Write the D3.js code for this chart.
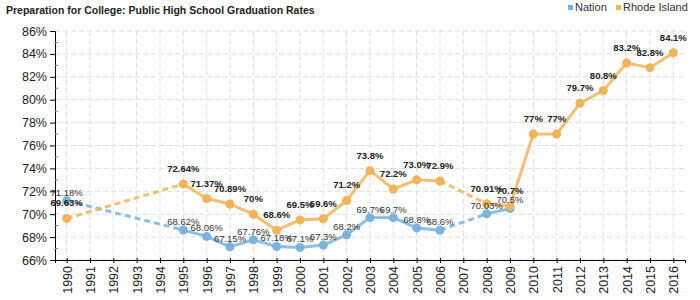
<!DOCTYPE html>
<html><head><meta charset="utf-8">
<script src="https://cdn.jsdelivr.net/npm/d3@7"></script>
<style>body{margin:0;background:#fff}svg{display:block;font-family:"Liberation Sans",Arial,sans-serif}</style>
</head><body><svg id="c" width="700" height="300"></svg>
<script>
const years = d3.range(1990, 2017);
const nationYears = [1990,1995,1996,1997,1998,1999,2000,2001,2002,2003,2004,2005,2006,2008,2009];
const nationValues = [71.18,68.62,68.06,67.15,67.76,67.18,67.1,67.3,68.2,69.7,69.7,68.8,68.6,70.03,70.5];
const nationLabels = ["71.18%","68.62%","68.06%","67.15%","67.76%","67.18%","67.1%","67.3%","68.2%","69.7%","69.7%","68.8%","68.6%","70.03%","70.5%"];
const riYears = [1990,1995,1996,1997,1998,1999,2000,2001,2002,2003,2004,2005,2006,2008,2009,2010,2011,2012,2013,2014,2015,2016];
const riValues = [69.63,72.64,71.37,70.89,70,68.6,69.5,69.6,71.2,73.8,72.2,73.0,72.9,70.91,70.7,77,77,79.7,80.8,83.2,82.8,84.1];
const riLabels = ["69.63%","72.64%","71.37%","70.89%","70%","68.6%","69.5%","69.6%","71.2%","73.8%","72.2%","73.0%","72.9%","70.91%","70.7%","77%","77%","79.7%","80.8%","83.2%","82.8%","84.1%"];
const yTicks = [66,68,70,72,74,76,78,80,82,84,86];
const yMinor = [67,69,71,73,75,77,79,81,83,85];

const svg = d3.select("#c");
const L = 55, R = 685, T = 31, B = 260;
const x = d3.scalePoint().domain(years).range([L, R]).padding(0.5);
const y = d3.scaleLinear().domain([66, 86]).range([B, T]);

svg.append("text").attr("x", 6).attr("y", 14).attr("font-size", 10.5).attr("font-weight", "bold").attr("fill", "#222")
  .text("Preparation for College: Public High School Graduation Rates");

// legend
const leg = [{n:"Nation", c:"#7ab3dc", x:568},{n:"Rhode Island", c:"#f0b45a", x:616}];
leg.forEach(d => {
  svg.append("rect").attr("x", d.x).attr("y", 5).attr("width", 5).attr("height", 5).attr("fill", d.c);
  svg.append("text").attr("x", d.x + 7).attr("y", 11).attr("font-size", 11).attr("fill", "#333").text(d.n);
});

// grid
const g = svg.append("g");
g.selectAll("line.h").data(yTicks).join("line").attr("x1", L).attr("x2", R)
  .attr("y1", d => y(d)).attr("y2", d => y(d)).attr("stroke", "#ddd").attr("stroke-dasharray", "5,3");
g.selectAll("line.v").data(years).join("line").attr("x1", d => x(d)).attr("x2", d => x(d))
  .attr("y1", T).attr("y2", B).attr("stroke", "#ddd").attr("stroke-dasharray", "5,3");

// axes
const ya = svg.append("g").attr("transform", `translate(${L},0)`)
  .call(d3.axisLeft(y).tickValues(yTicks).tickFormat(d => d + "%").tickSize(5));
ya.select(".domain").attr("stroke", "#000");
ya.selectAll("text").attr("font-size", 12.5).attr("fill", "#222").attr("font-family", "Liberation Sans, Arial");
svg.append("g").selectAll("line").data(yMinor).join("line").attr("x1", L).attr("x2", L + 3)
  .attr("y1", d => y(d)).attr("y2", d => y(d)).attr("stroke", "#e85a5a");

const xa = svg.append("g").attr("transform", `translate(0,${B})`)
  .call(d3.axisBottom(x).tickSizeOuter(0).tickSize(3));
xa.select(".domain").attr("stroke", "#000");
xa.selectAll(".tick line").attr("y1", -2).attr("y2", 3).attr("stroke", "#000");
xa.selectAll("text").attr("font-size", 12.5).attr("fill", "#222").attr("font-family", "Liberation Sans, Arial")
  .attr("transform", "rotate(-90)").attr("text-anchor", "end").attr("dx", "-6").attr("dy", "0.35em").attr("y", 0).attr("x", 0);

function drawSeries(yrs, vals, labels, color, bold, lblOff) {
  const pts = yrs.map((yr, i) => ({yr, v: vals[i], l: labels[i]}));
  const line = d3.line().x(d => x(d.yr)).y(d => y(d.v));
  const segs = [];
  for (let i = 1; i < pts.length; i++) segs.push({a: pts[i-1], b: pts[i], dashed: pts[i].yr - pts[i-1].yr > 1});
  const sg = svg.append("g");
  sg.selectAll("path").data(segs).join("path").attr("d", d => line([d.a, d.b]))
    .attr("fill", "none").attr("stroke", color).attr("stroke-width", 3).attr("stroke-opacity", 0.85)
    .attr("stroke-dasharray", d => d.dashed ? "6,4" : null);
  sg.selectAll("circle").data(pts).join("circle").attr("cx", d => x(d.yr)).attr("cy", d => y(d.v))
    .attr("r", 4.5).attr("fill", color);
  return pts;
}
const np = drawSeries(nationYears, nationValues, nationLabels, "#7ab3dc", false);
const rp = drawSeries(riYears, riValues, riLabels, "#f0b45a", true);

svg.append("g").selectAll("text").data(np).join("text")
  .attr("x", d => x(d.yr)).attr("y", d => y(d.v) - 5).attr("text-anchor", "middle")
  .attr("font-size", 9.5).attr("fill", "#333").text(d => d.l);
svg.append("g").selectAll("text").data(rp).join("text")
  .attr("x", d => x(d.yr)).attr("y", d => y(d.v) - 12).attr("text-anchor", "middle")
  .attr("font-size", 9.5).attr("font-weight", "bold").attr("fill", "#222").text(d => d.l);
</script></body></html>
